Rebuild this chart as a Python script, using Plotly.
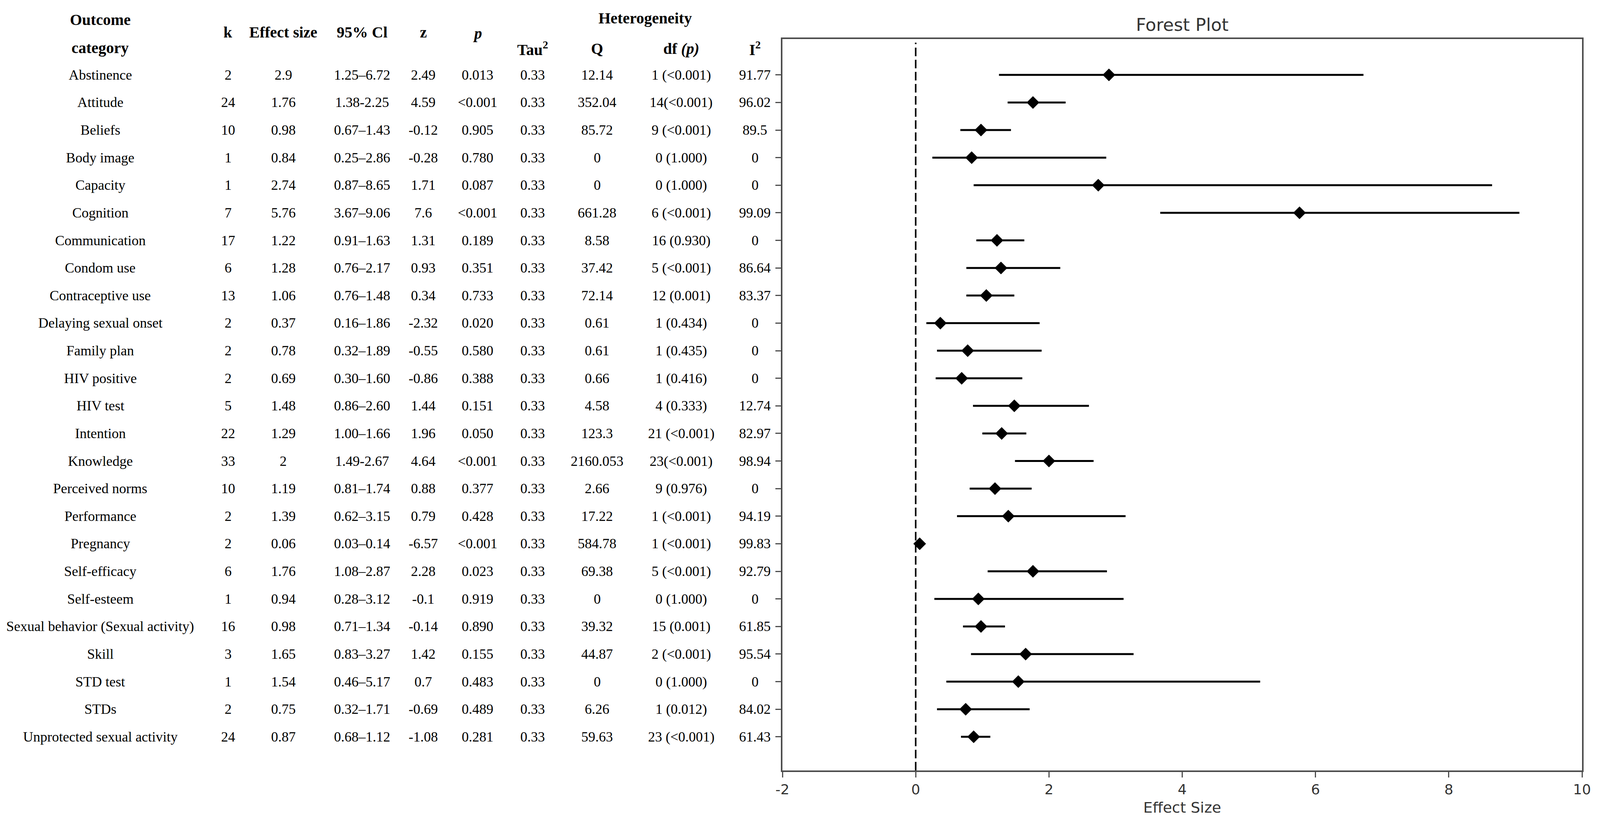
import plotly.graph_objects as go

# ---------------- data ----------------
categories = ["Abstinence", "Attitude", "Beliefs", "Body image", "Capacity", "Cognition",
              "Communication", "Condom use", "Contraceptive use", "Delaying sexual onset",
              "Family plan", "HIV positive", "HIV test", "Intention", "Knowledge",
              "Perceived norms", "Performance", "Pregnancy", "Self-efficacy", "Self-esteem",
              "Sexual behavior (Sexual activity)", "Skill", "STD test", "STDs",
              "Unprotected sexual activity"]
k_values = [2, 24, 10, 1, 1, 7, 17, 6, 13, 2, 2, 2, 5, 22, 33, 10, 2, 2, 6, 1, 16, 3, 1, 2, 24]
effect_size = [2.9, 1.76, 0.98, 0.84, 2.74, 5.76, 1.22, 1.28, 1.06, 0.37, 0.78, 0.69, 1.48, 1.29,
               2, 1.19, 1.39, 0.06, 1.76, 0.94, 0.98, 1.65, 1.54, 0.75, 0.87]
ci_low = [1.25, 1.38, 0.67, 0.25, 0.87, 3.67, 0.91, 0.76, 0.76, 0.16, 0.32, 0.30, 0.86, 1.00,
          1.49, 0.81, 0.62, 0.03, 1.08, 0.28, 0.71, 0.83, 0.46, 0.32, 0.68]
ci_high = [6.72, 2.25, 1.43, 2.86, 8.65, 9.06, 1.63, 2.17, 1.48, 1.86, 1.89, 1.60, 2.60, 1.66,
           2.67, 1.74, 3.15, 0.14, 2.87, 3.12, 1.34, 3.27, 5.17, 1.71, 1.12]
ci_sep = ["–", "-", "–", "–", "–", "–", "–", "–", "–", "–", "–", "–", "–", "–",
          "-", "–", "–", "–", "–", "–", "–", "–", "–", "–", "–"]
z_values = [2.49, 4.59, -0.12, -0.28, 1.71, 7.6, 1.31, 0.93, 0.34, -2.32, -0.55, -0.86, 1.44, 1.96,
            4.64, 0.88, 0.79, -6.57, 2.28, -0.1, -0.14, 1.42, 0.7, -0.69, -1.08]
p_values = ["0.013", "<0.001", "0.905", "0.780", "0.087", "<0.001", "0.189", "0.351", "0.733",
            "0.020", "0.580", "0.388", "0.151", "0.050", "<0.001", "0.377", "0.428", "<0.001",
            "0.023", "0.919", "0.890", "0.155", "0.483", "0.489", "0.281"]
tau2_values = [0.33] * 25
q_values = [12.14, 352.04, 85.72, 0, 0, 661.28, 8.58, 37.42, 72.14, 0.61, 0.61, 0.66, 4.58, 123.3,
            2160.053, 2.66, 17.22, 584.78, 69.38, 0, 39.32, 44.87, 0, 6.26, 59.63]
df_p = ["1 (<0.001)", "14(<0.001)", "9 (<0.001)", "0 (1.000)", "0 (1.000)", "6 (<0.001)",
        "16 (0.930)", "5 (<0.001)", "12 (0.001)", "1 (0.434)", "1 (0.435)", "1 (0.416)",
        "4 (0.333)", "21 (<0.001)", "23(<0.001)", "9 (0.976)", "1 (<0.001)", "1 (<0.001)",
        "5 (<0.001)", "0 (1.000)", "15 (0.001)", "2 (<0.001)", "0 (1.000)", "1 (0.012)",
        "23 (<0.001)"]
i2_values = [91.77, 96.02, 89.5, 0, 0, 99.09, 0, 86.64, 83.37, 0, 0, 0, 12.74, 82.97, 98.94, 0,
             94.19, 99.83, 92.79, 0, 61.85, 95.54, 0, 84.02, 61.43]
x_ticks = [-2, 0, 2, 4, 6, 8, 10]


def fmt(v):
    s = ("%f" % v).rstrip("0").rstrip(".")
    return s if s not in ("", "-0") else "0"


rows = list(range(len(categories)))

# ---------------- layout constants ----------------
# the browser viewport is 4096 px wide, so the 4338-px design is squeezed horizontally
REF_W = 4338
W, H = 4096, 2105
SX = W / REF_W
L, R, T, B = round(2121 * SX), round(49 * SX), 100, 132
PW, PH = W - L - R, H - T - B


def px_x(px):
    return (px * SX - L) / PW


def px_y(py):
    return (H - B - py) / PH


BODY = dict(family="Liberation Serif, Times New Roman, serif", size=36, color="black")
HEAD = dict(family="Liberation Serif, Times New Roman, serif", size=40, color="black")
SANS = "DejaVu Sans, sans-serif"

fig = go.Figure()
fig.add_trace(go.Scatter(
    x=effect_size, y=rows, mode="markers",
    marker=dict(symbol="diamond", size=25, color="black"),
    error_x=dict(type="data", symmetric=False,
                 array=[h - e for h, e in zip(ci_high, effect_size)],
                 arrayminus=[e - l for e, l in zip(effect_size, ci_low)],
                 color="black", thickness=5, width=0),
    showlegend=False, hoverinfo="skip"))

fig.add_shape(type="line", xref="x", yref="paper", x0=0, x1=0, y0=0, y1=0.995,
              line=dict(color="black", width=4, dash="22px,9px"))

# table columns (x centres, in reference pixels)
col_px = {"cat": 272, "k": 618, "es": 768, "ci": 982, "z": 1148, "p": 1295,
          "tau": 1444, "q": 1619, "df": 1847, "i2": 2047}
ann = []
for i in rows:
    cells = [
        ("cat", categories[i]),
        ("k", str(k_values[i])),
        ("es", fmt(effect_size[i])),
        ("ci", "%.2f%s%.2f" % (ci_low[i], ci_sep[i], ci_high[i])),
        ("z", fmt(z_values[i])),
        ("p", p_values[i]),
        ("tau", fmt(tau2_values[i])),
        ("q", fmt(q_values[i])),
        ("df", df_p[i]),
        ("i2", fmt(i2_values[i])),
    ]
    for key, txt in cells:
        ann.append(dict(x=px_x(col_px[key]), y=i, xref="paper", yref="y", text=txt,
                        showarrow=False, xanchor="center", yanchor="middle", font=BODY))

headers = [
    ("cat", 50, "<b>Outcome</b>"),
    ("cat", 122, "<b>category</b>"),
    ("k", 83, "<b>k</b>"),
    ("es", 83, "<b>Effect size</b>"),
    ("ci", 83, "<b>95% Cl</b>"),
    ("z", 83, "<b>z</b>"),
    ("p", 85, "<b><i>p</i></b>"),
    ("tau", 124, "<b>Tau<sup>2</sup></b>"),
    ("q", 124, "<b>Q</b>"),
    ("df", 124, "<b>df <i>(p)</i></b>"),
    ("i2", 124, "<b>I<sup>2</sup></b>"),
]
for key, py, txt in headers:
    ann.append(dict(x=px_x(col_px[key]), y=px_y(py), xref="paper", yref="paper", text=txt,
                    showarrow=False, xanchor="center", yanchor="middle", font=HEAD))
ann.append(dict(x=px_x(1749), y=px_y(47), xref="paper", yref="paper",
                text="<b>Heterogeneity</b>", showarrow=False, xanchor="center",
                yanchor="middle", font=HEAD))

fig.update_layout(
    width=W, height=H,
    margin=dict(l=L, r=R, t=T, b=B, pad=0),
    paper_bgcolor="white", plot_bgcolor="white",
    title=dict(text="Forest Plot", x=0.5, xref="paper", xanchor="center",
               y=1 - 63 / H, yref="container", yanchor="middle",
               font=dict(family=SANS, size=45, color="#333333")),
    annotations=ann,
    xaxis=dict(range=[-2, 10], tickvals=x_ticks, ticktext=[str(v) for v in x_ticks],
               showgrid=False, zeroline=False, showline=True, mirror=True,
               linecolor="#4d4d4d", linewidth=3.5, ticks="outside", ticklen=14,
               tickwidth=3, tickcolor="#4d4d4d",
               tickfont=dict(family=SANS, size=36, color="#333333"),
               title=dict(text="Effect Size", standoff=14,
                          font=dict(family=SANS, size=38, color="#333333"))),
    yaxis=dict(range=[25.22, -1.3], tickvals=rows, showticklabels=False,
               showgrid=False, zeroline=False, showline=True, mirror=True,
               linecolor="#4d4d4d", linewidth=3.5, ticks="outside", ticklen=14,
               tickwidth=3, tickcolor="#4d4d4d"),
)

fig.write_html("out.html",
               config={"displayModeBar": False},
               post_script="document.body.style.margin='0';"
                           "document.body.style.overflow='hidden';")
